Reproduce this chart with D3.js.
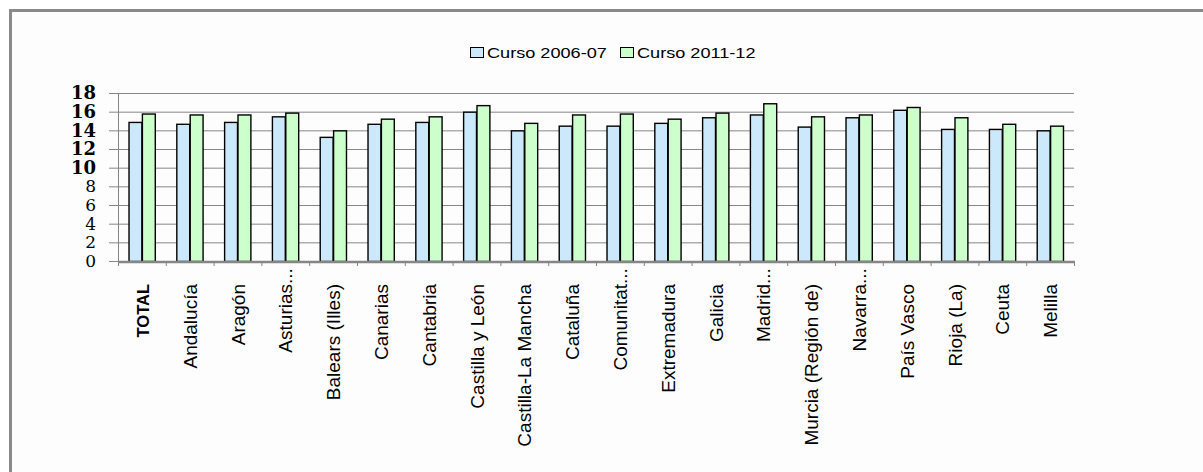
<!DOCTYPE html>
<html><head><meta charset="utf-8">
<script src="https://cdn.jsdelivr.net/npm/d3@7/dist/d3.min.js"></script>
<style>body{margin:0;background:#fff;}svg{display:block;}</style>
</head><body>
<svg id="c" width="1203" height="472"></svg>
<script>
const categories = ["TOTAL","Andalucía","Aragón","Asturias...","Balears (Illes)","Canarias","Cantabria","Castilla y León","Castilla-La Mancha","Cataluña","Comunitat...","Extremadura","Galicia","Madrid...","Murcia (Región de)","Navarra...","País Vasco","Rioja (La)","Ceuta","Melilla"];
const series = ["Curso 2006-07","Curso 2011-12"];
const curso0607 = [14.9,14.7,14.9,15.5,13.3,14.7,14.9,16.0,14.0,14.5,14.5,14.8,15.4,15.7,14.4,15.4,16.2,14.15,14.15,14.0];
const curso1112 = [15.8,15.7,15.7,15.9,14.0,15.25,15.5,16.7,14.8,15.7,15.8,15.25,15.9,16.9,15.5,15.7,16.5,15.4,14.7,14.5];
const yTicks = [0,2,4,6,8,10,12,14,16,18];
const colors = ["#CCE9FB","#CCFFCC"];

const svg = d3.select("#c");
// outer frame
svg.append("rect").attr("x",0).attr("y",0).attr("width",1203).attr("height",472).attr("fill","#fff");
svg.append("rect").attr("x",10.5).attr("y",10.5).attr("width",1203).attr("height",472)
  .attr("fill","#fdfdfd").attr("stroke","#8a8a8a").attr("stroke-width",3);

const x0 = d3.scaleBand().domain(categories).range([118,1074]).paddingInner(0.44).paddingOuter(0.22);
const x1 = d3.scaleBand().domain(series).range([0,x0.bandwidth()]);
const y = d3.scaleLinear().domain([0,18]).range([261,93]);

// gridlines
svg.append("g").selectAll("line").data(yTicks.filter(d=>d>0)).join("line")
  .attr("x1",109).attr("x2",1074).attr("y1",d=>y(d)+0.5).attr("y2",d=>y(d)+0.5)
  .attr("stroke","#868686").attr("stroke-width",1);
// y axis line
svg.append("line").attr("x1",118.5).attr("x2",118.5).attr("y1",93).attr("y2",266)
  .attr("stroke","#868686").attr("stroke-width",1);
svg.append("line").attr("x1",109).attr("x2",118).attr("y1",y(0)+0.5).attr("y2",y(0)+0.5)
  .attr("stroke","#868686");

// y labels
svg.append("g").selectAll("text").data(yTicks).join("text")
  .attr("x",96).attr("y",d=>y(d)).attr("dy","0.36em").attr("text-anchor","end")
  .attr("font-family","DejaVu Serif").attr("font-size",d=>d>=10?18:17)
  .attr("font-weight",d=>d>=10?"bold":"normal").attr("fill","#000")
  .text(d=>d);

// bars
const data = categories.map((c,i)=>({c, v:[curso0607[i],curso1112[i]]}));
const g = svg.append("g").selectAll("g").data(data).join("g")
  .attr("transform",d=>`translate(${x0(d.c)},0)`);
g.selectAll("rect").data(d=>d.v.map((v,j)=>({s:series[j],v,j}))).join("rect")
  .attr("x",d=>x1(d.s)+0.5).attr("y",d=>y(d.v)+0.5)
  .attr("width",x1.bandwidth()-0.5).attr("height",d=>y(0)-y(d.v))
  .attr("fill",d=>colors[d.j]).attr("stroke","#000").attr("stroke-width",1.4);

// baseline
svg.append("line").attr("x1",118).attr("x2",1075).attr("y1",y(0)+1).attr("y2",y(0)+1)
  .attr("stroke","#868686").attr("stroke-width",2.5);
// x ticks
const bounds = categories.map(c=>x0(c)-x0.step()*x0.paddingInner()/2).concat([1074]);
bounds[0]=118;
svg.append("g").selectAll("line").data(bounds).join("line")
  .attr("x1",d=>d+0.5).attr("x2",d=>d+0.5).attr("y1",261).attr("y2",266)
  .attr("stroke","#868686").attr("stroke-width",1);

// x labels
const lab = svg.append("g").selectAll("text").data(categories).join("text")
  .attr("font-family","Liberation Sans, Arial, sans-serif")
  .attr("font-size",d=>d==="TOTAL"?16.5:19)
  .attr("font-weight",d=>d==="TOTAL"?"bold":"normal")
  .attr("text-anchor","end").attr("fill","#000")
  .text(d=>d);
const probe = svg.append("text").attr("font-family","Liberation Sans, Arial, sans-serif").attr("font-size",19).text("...");
const ellW = probe.node().getComputedTextLength(); probe.remove();
lab.attr("transform",d=>{
  const cx = x0(d)+x0.bandwidth()/2;
  const top = d.endsWith("...") ? 284-ellW : 284;
  return `translate(${cx+7},${top}) rotate(-90)`;
});

// legend
const lg = svg.append("g");
series.forEach((s,i)=>{
  const lx = [470,620][i];
  lg.append("rect").attr("x",lx+0.5).attr("y",47.5).attr("width",13).attr("height",10)
    .attr("fill",colors[i]).attr("stroke","#000").attr("stroke-width",1);
  lg.append("text").attr("transform",`translate(${lx+17},58) scale(1.25,1)`)
    .attr("font-family","Liberation Sans, Arial, sans-serif").attr("font-size",14.5)
    .attr("fill","#000").text(s);
});
</script>
</body></html>
